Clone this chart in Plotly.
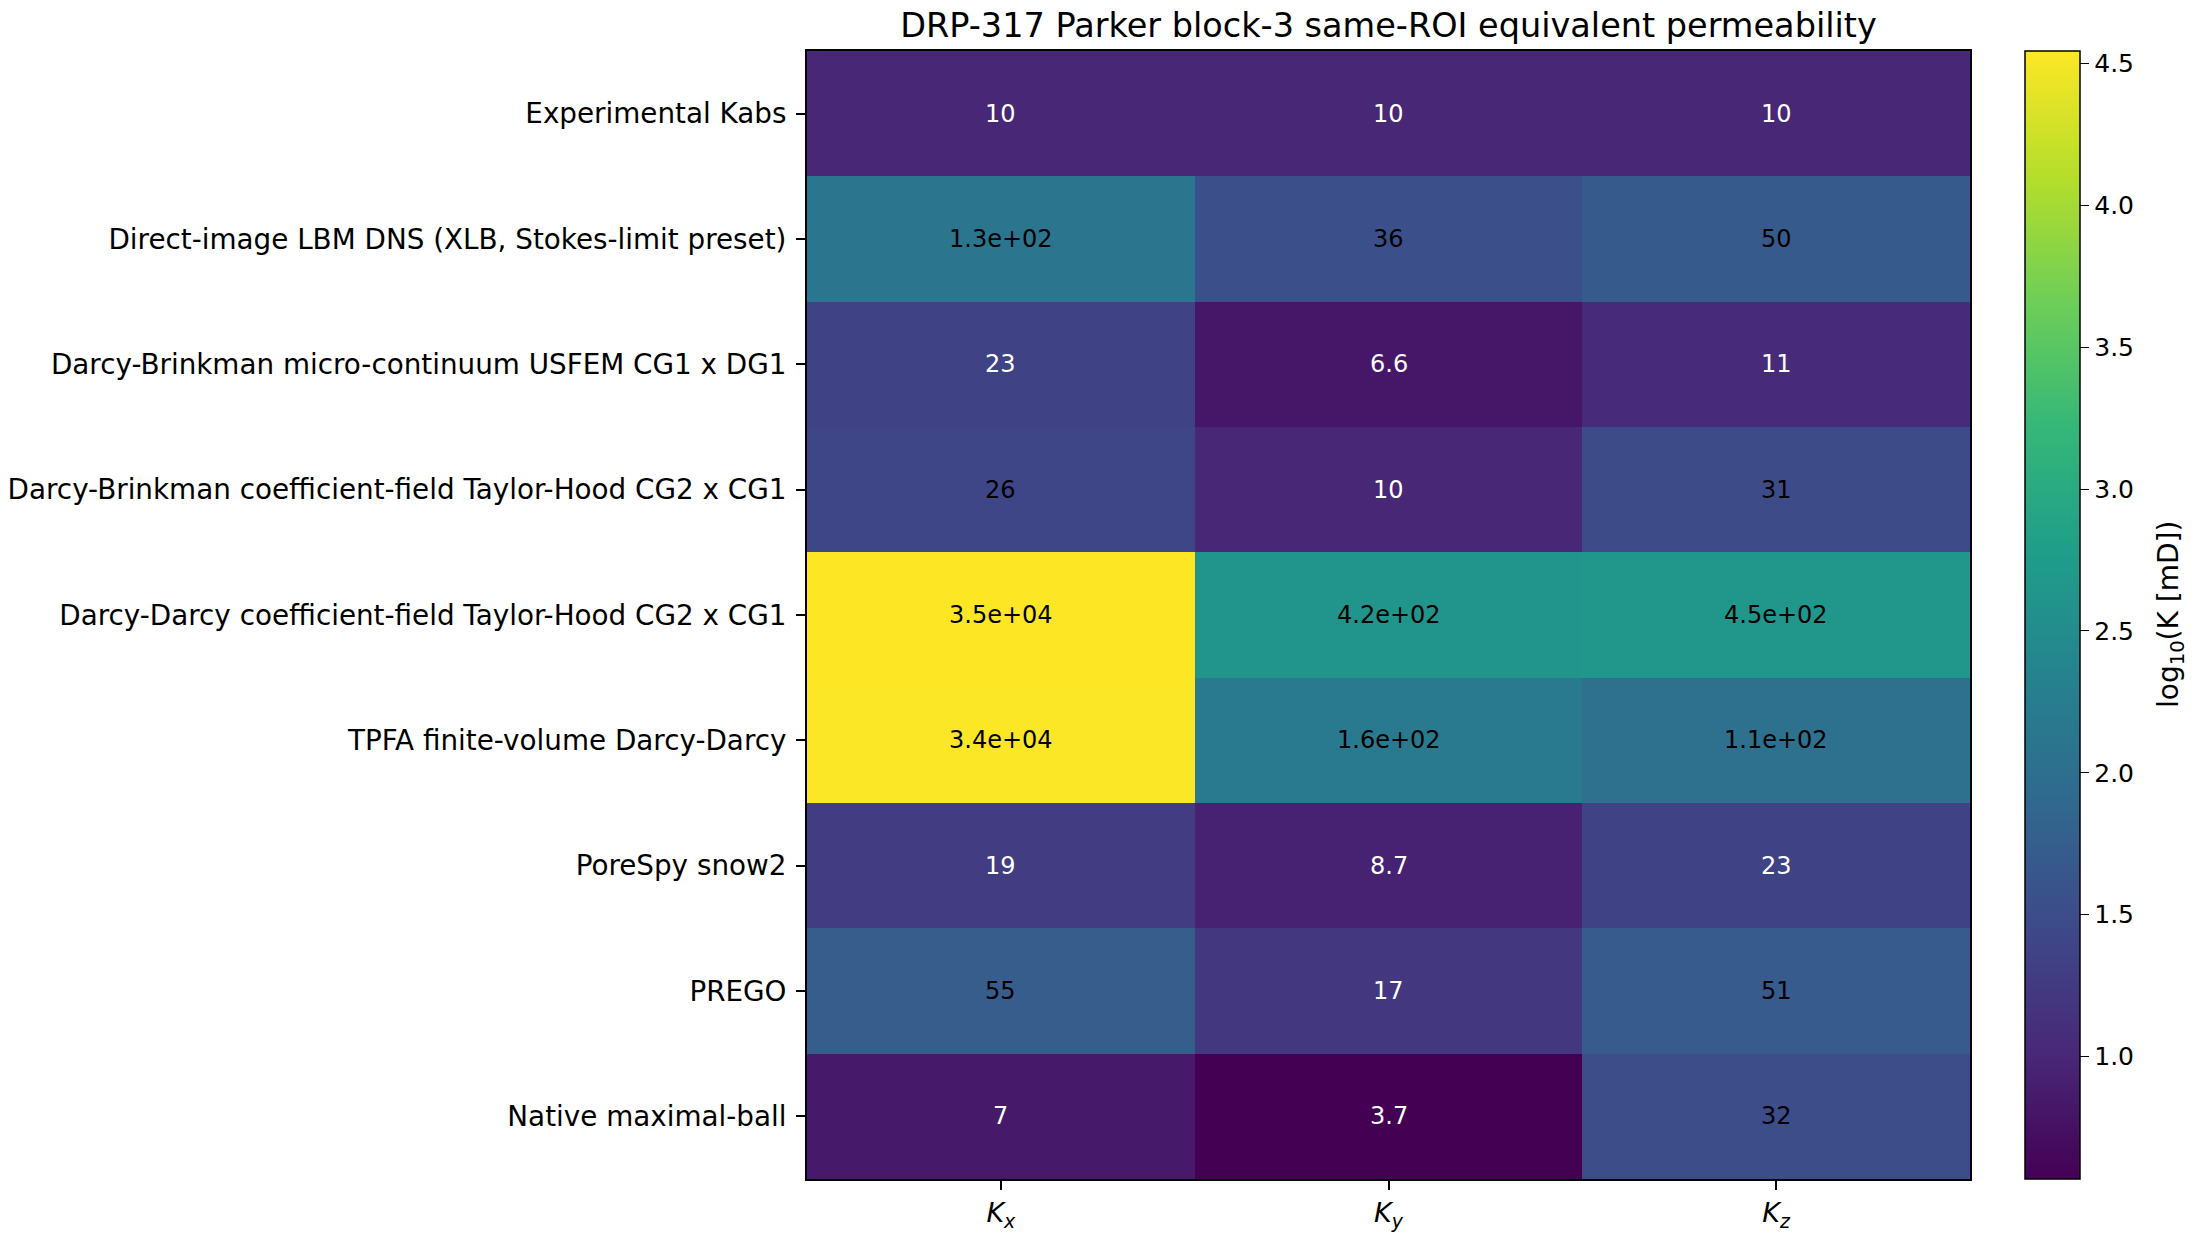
import numpy as np
import plotly.graph_objects as go

methods = [
    "Experimental Kabs",
    "Direct-image LBM DNS (XLB, Stokes-limit preset)",
    "Darcy-Brinkman micro-continuum USFEM CG1 x DG1",
    "Darcy-Brinkman coefficient-field Taylor-Hood CG2 x CG1",
    "Darcy-Darcy coefficient-field Taylor-Hood CG2 x CG1",
    "TPFA finite-volume Darcy-Darcy",
    "PoreSpy snow2",
    "PREGO",
    "Native maximal-ball",
]
directions = ["K<sub>x</sub>", "K<sub>y</sub>", "K<sub>z</sub>"]
direction_labels = ["<i>K<sub>x</sub></i>", "<i>K<sub>y</sub></i>", "<i>K<sub>z</sub></i>"]

kx = [10, 130, 23, 26, 35000, 34000, 19, 55, 7]
ky = [10, 36, 6.6, 10, 420, 160, 8.7, 17, 3.7]
kz = [10, 50, 11, 31, 450, 110, 23, 51, 32]

K = np.array([kx, ky, kz], dtype=float).T
Z = np.log10(K)

FONT = "DejaVu Sans"

L, R, T, B = 807, 1970, 51, 1179
W, H = 2200, 1240

fig = go.Figure(
    go.Heatmap(
        z=Z,
        x=directions,
        y=methods,
        colorscale="Viridis",
        xgap=0,
        ygap=0,
        hoverinfo="skip",
        colorbar=dict(
            x=(2025 - L) / (R - L),
            xanchor="left",
            xref="paper",
            xpad=0,
            ypad=0,
            y=0.5,
            yanchor="middle",
            len=1.0,
            lenmode="fraction",
            thickness=55,
            thicknessmode="pixels",
            outlinecolor="black",
            outlinewidth=1.5,
            ticks="outside",
            ticklen=9,
            tickwidth=1.3,
            tickcolor="black",
            tick0=0,
            dtick=0.5,
            tickformat=".1f",
            tickfont=dict(family=FONT, size=25, color="black"),
        ),
    )
)

# colorbar label
fig.add_annotation(
    x=(2170 - L) / (R - L),
    y=0.5,
    xref="paper",
    yref="paper",
    text="log<sub>10</sub>(K [mD])",
    textangle=-90,
    showarrow=False,
    xanchor="center",
    yanchor="middle",
    font=dict(family=FONT, size=28, color="black"),
)

thr = 1.4
for i, m in enumerate(methods):
    for j, d in enumerate(directions):
        v = K[i, j]
        fig.add_annotation(
            x=d,
            y=m,
            text=format(v, ".2g"),
            showarrow=False,
            font=dict(family=FONT, size=24, color="black" if np.log10(v) > thr else "white"),
        )

fig.update_layout(
    width=W,
    height=H,
    margin=dict(l=L, r=W - R, t=T, b=H - B),
    paper_bgcolor="white",
    plot_bgcolor="white",
    title=dict(
        text="DRP-317 Parker block-3 same-ROI equivalent permeability",
        x=(L + R) / 2 / W,
        xanchor="center",
        y=1 - 25 / H,
        yanchor="middle",
        font=dict(family=FONT, size=33.5, color="black"),
    ),
    font=dict(family=FONT, color="black"),
)
fig.update_xaxes(
    tickvals=directions,
    ticktext=direction_labels,
    tickfont=dict(family=FONT, size=27, color="black"),
    ticks="outside",
    ticklen=9,
    tickwidth=1.5,
    tickcolor="black",
    showline=True,
    linecolor="black",
    linewidth=2,
    mirror=True,
    showgrid=False,
    zeroline=False,
    automargin=False,
)
fig.update_yaxes(
    autorange="reversed",
    tickfont=dict(family=FONT, size=27.8, color="black"),
    ticks="outside",
    ticklen=9,
    tickwidth=1.5,
    tickcolor="black",
    ticklabelstandoff=4,
    showline=True,
    linecolor="black",
    linewidth=2,
    mirror=True,
    showgrid=False,
    zeroline=False,
    automargin=False,
)

fig.write_html("out.html")
